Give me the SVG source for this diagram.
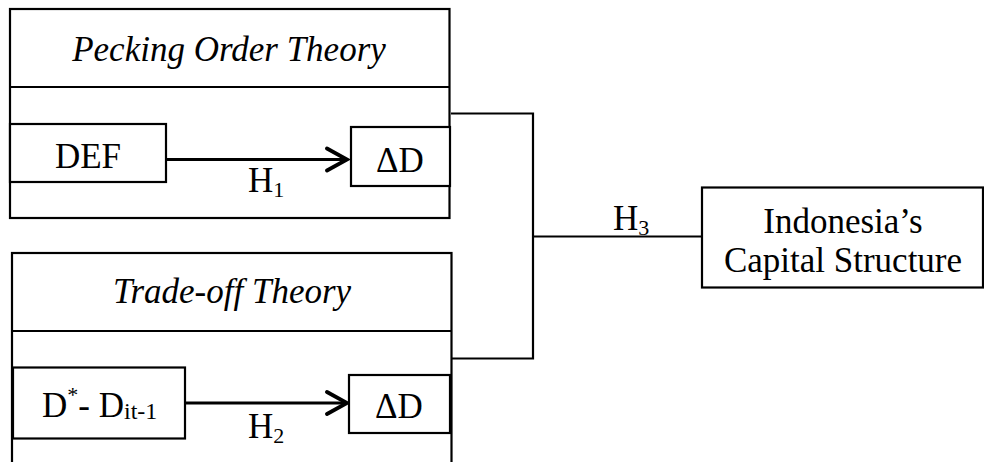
<svg xmlns="http://www.w3.org/2000/svg" width="984" height="462" viewBox="0 0 984 462">
<style>
.box{fill:#fff;stroke:#000;stroke-width:2.2}
.t{font-family:"Liberation Serif","Times New Roman",serif;font-size:35px;fill:#000}
.it{font-style:italic}
.arr{stroke:#000;stroke-width:3.2;fill:none}
.con{stroke:#000;stroke-width:2.2;fill:none}
</style>
<defs>
<marker id="chev" viewBox="0 0 26 28" refX="23" refY="14" markerWidth="26" markerHeight="28" markerUnits="userSpaceOnUse" orient="auto">
<path d="M3,3 L23,14 L3,25" fill="none" stroke="#000" stroke-width="3.8" stroke-linecap="round" stroke-linejoin="miter"/>
</marker>
</defs>
<rect width="984" height="462" fill="#fff"/>
<g id="pecking">
<rect class="box" x="10" y="9" width="439.5" height="209"/>
<line class="con" x1="10" y1="87" x2="449.5" y2="87"/>
<text class="t it" x="229" y="61" text-anchor="middle">Pecking Order Theory</text>
</g>
<g id="def">
<rect class="box" x="10" y="124" width="156" height="58"/>
<text class="t" x="88" y="167.5" text-anchor="middle">DEF</text>
</g>
<g id="dd1">
<rect class="box" x="351" y="127" width="99" height="59"/>
<text class="t" x="400" y="172" text-anchor="middle">ΔD</text>
</g>
<g id="tradeoff">
<rect class="box" x="12" y="253" width="439.5" height="215"/>
<line class="con" x1="12" y1="331" x2="451.5" y2="331"/>
<text class="t it" x="232" y="303" text-anchor="middle">Trade-off Theory</text>
</g>
<g id="dstar">
<rect class="box" x="13" y="367.5" width="172" height="71"/>
<text class="t" x="42" y="417">D<tspan font-size="22" dy="-15">*</tspan><tspan dy="15">- D</tspan><tspan font-size="24" dy="2">it-1</tspan></text>
</g>
<g id="dd2">
<rect class="box" x="349" y="375" width="101" height="58"/>
<text class="t" x="399" y="418" text-anchor="middle">ΔD</text>
</g>
<g id="capital">
<rect class="box" x="702" y="187.5" width="281" height="100"/>
<text class="t" x="843" y="232.5" text-anchor="middle">Indonesia’s</text>
<text class="t" x="843" y="271.5" text-anchor="middle">Capital Structure</text>
</g>
<g id="connectors">
<line class="arr" x1="166" y1="159.5" x2="347" y2="159.5" marker-end="url(#chev)"/>
<line class="arr" x1="185" y1="403" x2="347" y2="403" marker-end="url(#chev)"/>
<polyline class="con" points="451,113.5 533,113.5 533,358.5 451.5,358.5"/>
<line class="con" x1="533" y1="236.5" x2="702" y2="236.5"/>
<text class="t" x="248" y="192" font-size="34">H<tspan font-size="22" dy="5">1</tspan></text>
<text class="t" x="248" y="438" font-size="34">H<tspan font-size="22" dy="5">2</tspan></text>
<text class="t" x="613" y="230" font-size="34">H<tspan font-size="22" dy="5">3</tspan></text>
</g>
</svg>
